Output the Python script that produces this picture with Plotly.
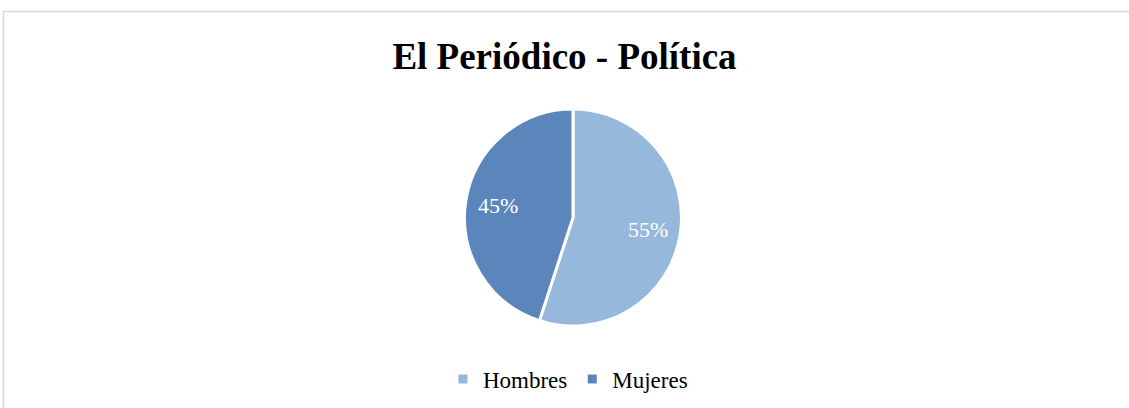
import math
import plotly.graph_objects as go

categories = ["Hombres", "Mujeres"]
values = [55, 45]
colors = ["#95B8DB", "#5B86BC"]
title_text = "El Periódico - Política"

W, H = 1129, 408
cx, cy, r = 573, 217.5, 108.5

fig = go.Figure(go.Pie(
    labels=categories,
    values=values,
    sort=False,
    direction="clockwise",
    rotation=0,
    marker=dict(colors=colors, line=dict(color="white", width=3)),
    textinfo="none",
    domain=dict(x=[(cx - r) / W, (cx + r) / W], y=[1 - (cy + r) / H, 1 - (cy - r) / H]),
    hoverinfo="label+percent",
))

# percentage labels placed at ~0.7 radius along each slice's mid angle
total = sum(values)
annotations = []
cum = 0
for v in values:
    mid = (cum + v / 2) / total * 2 * math.pi
    cum += v
    px = cx + 0.7 * r * math.sin(mid)
    py = cy - 0.7 * r * math.cos(mid)
    annotations.append(dict(
        x=px / W, y=1 - py / H, xref="paper", yref="paper",
        text=f"{round(100 * v / total)}%", showarrow=False,
        xanchor="center", yanchor="middle",
        font=dict(family="Liberation Serif", size=22, color="white"),
    ))

fig.update_layout(
    width=W, height=H,
    margin=dict(l=0, r=0, t=0, b=0),
    paper_bgcolor="white",
    plot_bgcolor="white",
    title=dict(text="<b>" + title_text + "</b>", x=0.5, xanchor="center",
               y=1 - 56 / H, yanchor="middle",
               font=dict(family="Liberation Serif", size=37, color="black")),
    legend=dict(orientation="h", x=0.503, xanchor="center", y=1 - 379 / H, yanchor="middle",
                font=dict(family="Liberation Serif", size=23, color="black"),
                itemwidth=30, traceorder="normal"),
    annotations=annotations,
    shapes=[dict(type="rect", xref="paper", yref="paper",
                 x0=3.5 / W, x1=1.05, y0=-0.05, y1=1 - 11.5 / H,
                 line=dict(color="#D9D9D9", width=1.5), fillcolor="rgba(0,0,0,0)")],
)

fig.write_html("out.html", config={"displayModeBar": False},
               post_script="document.body.style.margin='0px';document.body.style.overflow='hidden';")
